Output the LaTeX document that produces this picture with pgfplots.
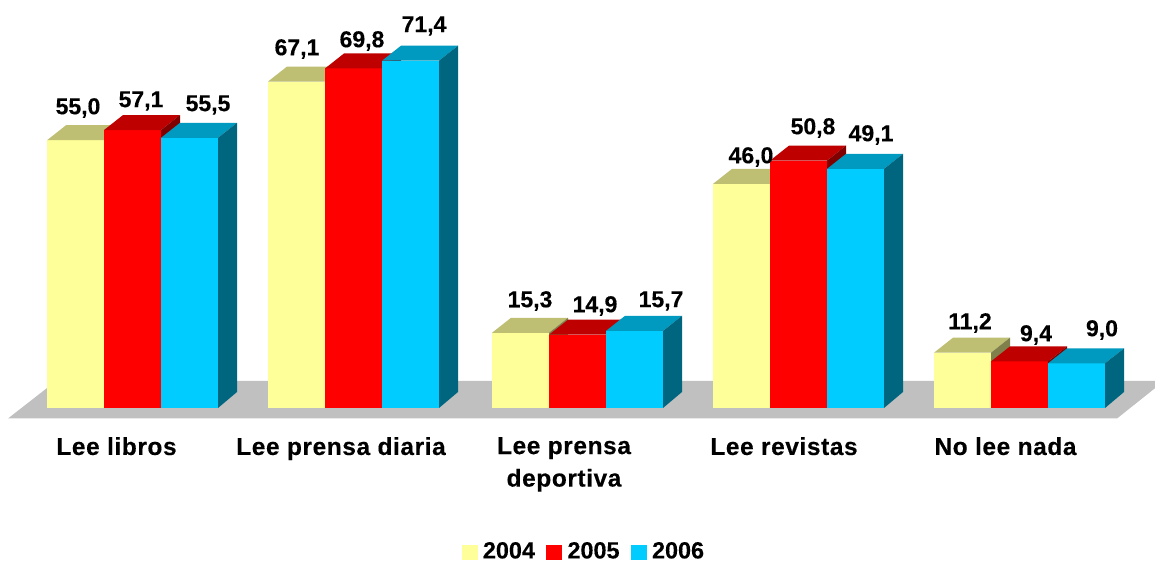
\documentclass[border=0pt]{standalone}
\usepackage{pgfplots}
\pgfplotsset{compat=1.18}
\usepackage{fontspec}
\setmainfont{Liberation Sans}
\definecolor{yf}{HTML}{FFFF99}\definecolor{yt}{HTML}{BFBF73}\definecolor{ys}{HTML}{80804D}
\definecolor{rf}{HTML}{FF0000}\definecolor{rt}{HTML}{BF0000}\definecolor{rs}{HTML}{800000}
\definecolor{cf}{HTML}{00CCFF}\definecolor{ct}{HTML}{0099BF}\definecolor{cs}{HTML}{006680}
\definecolor{floorc}{HTML}{C0C0C0}
\newcommand\tdbar[3]{%
  \pgfmathsetmacro\xl{#1-28.5}\pgfmathsetmacro\xr{#1+28.5}%
  \pgfmathsetmacro\xbl{#1-9.5}\pgfmathsetmacro\xbr{#1+47.5}%
  \pgfmathsetmacro\yb{#2+3.093}%
  \addplot[forget plot,ybar,bar width=57,bar shift=0pt,fill=#3f,draw=none] coordinates {(#1,#2)};
  \addplot[forget plot,fill=#3f,draw=none] coordinates {(\xl,-0.206)(\xr,-0.206)(\xr,0.2)(\xl,0.2)};
  \addplot[forget plot,fill=#3t,draw=none] coordinates {(\xl,#2)(\xr,#2)(\xbr,\yb)(\xbl,\yb)};
  \addplot[forget plot,fill=#3s,draw=none] coordinates {(\xr,-0.206)(\xbr,3.093)(\xbr,\yb)(\xr,#2)};
}
\newcommand\lab[3]{\node[font=\fontsize{23}{26}\selectfont\bfseries\addfontfeatures{FakeBold=0.25},inner sep=0pt] at (axis cs:#1,{(405-#2)/4.85}) {#3};}
\begin{document}
\begin{tikzpicture}
\begin{axis}[
  scale only axis,width=1155pt,height=560pt,
  xmin=0,xmax=1155,ymin=-31.546,ymax=83.918,
  axis line style={draw=none},
  major tick style={draw=none},
  ytick=\empty,
  xtick={116.5,341,564,784,1005.5},
  xticklabels={Lee libros,Lee prensa diaria,{Lee prensa\\deportiva},Lee revistas,No lee nada},
  x tick label style={anchor=north,align=center,yshift=123pt,inner sep=0pt,
    font=\fontsize{24.5}{32.5}\selectfont\bfseries\addfontfeatures{LetterSpace=2.3,FakeBold=0.25}},
  legend columns=-1,
  legend style={draw=none,fill=none,at={(584pt,9pt)},anchor=center,
    font=\fontsize{23.4}{26}\selectfont\bfseries\addfontfeatures{FakeBold=0.25},
    /tikz/every even column/.append style={column sep=9.5pt}},
]
\addlegendimage{legend image code/.code={\path[draw=none,fill=none] (0pt,0pt) rectangle (19pt,0pt);\fill[yf,draw=none] (0pt,-9pt) rectangle (16pt,6pt);}}
\addlegendentry{2004}
\addlegendimage{legend image code/.code={\path[draw=none,fill=none] (0pt,0pt) rectangle (19pt,0pt);\fill[rf,draw=none] (0pt,-9pt) rectangle (16pt,6pt);}}
\addlegendentry{2005}
\addlegendimage{legend image code/.code={\path[draw=none,fill=none] (0pt,0pt) rectangle (19pt,0pt);\fill[cf,draw=none] (0pt,-9pt) rectangle (16pt,6pt);}}
\addlegendentry{2006}
\addplot[forget plot,fill=floorc,draw=none] coordinates {(8,-2.371)(1117,-2.371)(1164,5.361)(56,5.361)};
\tdbar{75.5}{55.0}{y}\tdbar{132.5}{57.1}{r}\tdbar{189.5}{55.5}{c}
\tdbar{296.5}{67.1}{y}\tdbar{353.5}{69.8}{r}\tdbar{410.5}{71.4}{c}
\tdbar{520.5}{15.3}{y}\tdbar{577.5}{14.9}{r}\tdbar{634.5}{15.7}{c}
\tdbar{741.5}{46.0}{y}\tdbar{798.5}{50.8}{r}\tdbar{855.5}{49.1}{c}
\tdbar{962.5}{11.2}{y}\tdbar{1019.5}{9.4}{r}\tdbar{1076.5}{9.0}{c}
\lab{78}{106}{55,0}\lab{141}{99}{57,1}\lab{208}{103}{55,5}
\lab{297}{47}{67,1}\lab{362}{39}{69,8}\lab{424}{24}{71,4}
\lab{530}{299}{15,3}\lab{595}{304}{14,9}\lab{661}{299}{15,7}
\lab{751}{155}{46,0}\lab{813}{126}{50,8}\lab{871}{133}{49,1}
\lab{970}{321}{11,2}\lab{1036}{333}{9,4}\lab{1102}{328}{9,0}
\end{axis}
\end{tikzpicture}
\end{document}
